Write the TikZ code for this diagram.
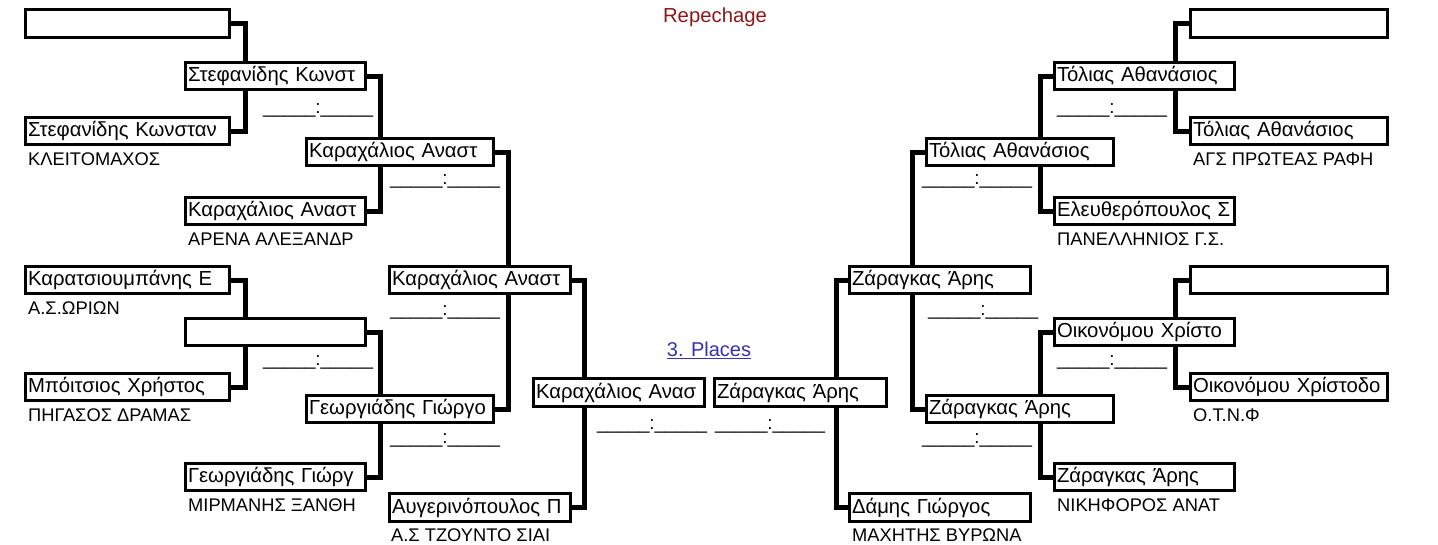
\documentclass[tikz,border=0pt]{standalone}
\usepackage{fontspec}
\setmainfont{Liberation Sans}
\usetikzlibrary{backgrounds,calc}
\newcommand{\boxfont}{\fontsize{20.3}{22}\selectfont}
\newcommand{\clubfont}{\fontsize{18.3}{20}\selectfont}
\newcommand{\scorefont}{\fontsize{18.8}{21}\selectfont}
\definecolor{repred}{RGB}{140,24,24}
\definecolor{placeblue}{RGB}{52,52,170}
\tikzset{%
	entry/.style = {draw, rectangle, line width=3pt, fill=white, anchor=west, minimum height=27.5pt, inner xsep=2.5pt, inner ysep=0pt, align=left, font=\boxfont, text width=#1,
		execute at begin node=\hbox\bgroup, execute at end node=\egroup},
	club/.style  = {anchor=base west, inner sep=0pt, font=\clubfont},
	score/.style = {anchor=base west, inner sep=0pt, font=\scorefont},
	wire/.style  = {line width=5pt, line join=miter},
}
\begin{document}
\begin{tikzpicture}[x=1pt, y=-1pt]
	\useasboundingbox (0,0) rectangle (1438,544);
	\node[text=repred, font=\boxfont] (rep) at (715,17) {Repechage};
	\node[text=placeblue, font=\fontsize{20}{22}\selectfont] (places) at (709,350) {\underline{3. Places}};
	
	% left half
	\node[entry=199pt] (l1a) at (24,23.5) {};
	\node[entry=199pt] (l1b) at (24,131) {Στεφανίδης Κωνσταν};
	\node[entry=199pt] (l1c) at (24,280) {Καρατσιουμπάνης Ε};
	\node[entry=199pt] (l1d) at (24,387) {Μπόιτσιος Χρήστος};
	\node[entry=175pt] (l2a) at (184,76) {Στεφανίδης Κωνστ};
	\node[entry=175pt] (l2b) at (184,211) {Καραχάλιος Αναστ};
	\node[entry=175pt] (l2c) at (184,332) {};
	\node[entry=175pt] (l2d) at (184,477) {Γεωργιάδης Γιώργ};
	\node[entry=182pt] (l3a) at (305,152) {Καραχάλιος Αναστ};
	\node[entry=182pt] (l3b) at (305,409) {Γεωργιάδης Γιώργο};
	\node[entry=176pt] (l4a) at (388,280) {Καραχάλιος Αναστ};
	\node[entry=176pt] (l4b) at (388,507.5) {Αυγερινόπουλος Π};
	\node[entry=166pt] (l5) at (532,392.5) {Καραχάλιος Ανασ};
	
	\node[club] (cl1b) at ($(l1b.west)+(4,34)$) {ΚΛΕΙΤΟΜΑΧΟΣ};
	\node[club] (cl1c) at ($(l1c.west)+(4,34)$) {Α.Σ.ΩΡΙΩΝ};
	\node[club] (cl1d) at ($(l1d.west)+(4,34)$) {ΠΗΓΑΣΟΣ ΔΡΑΜΑΣ};
	\node[club] (cl2b) at ($(l2b.west)+(4,34)$) {ΑΡΕΝΑ ΑΛΕΞΑΝΔΡ};
	\node[club] (cl2d) at ($(l2d.west)+(4,34)$) {ΜΙΡΜΑΝΗΣ ΞΑΝΘΗ};
	\node[club] (cl4b) at ($(l4b.west)+(3,34)$) {Α.Σ ΤΖΟΥΝΤΟ ΣΙΑΙ};
	
	\node[score] (sl2a) at (263,113) {\_\_\_\_\_:\_\_\_\_\_};
	\node[score] (sl2c) at (263,365) {\_\_\_\_\_:\_\_\_\_\_};
	\node[score] (sl3a) at (390,184) {\_\_\_\_\_:\_\_\_\_\_};
	\node[score] (sl4a) at (390,315) {\_\_\_\_\_:\_\_\_\_\_};
	\node[score] (sl3b) at (390,443) {\_\_\_\_\_:\_\_\_\_\_};
	\node[score] (sl5) at (597,429) {\_\_\_\_\_:\_\_\_\_\_};
	
	% right half
	\node[entry=192pt] (r1a) at (1189,23.5) {};
	\node[entry=192pt] (r1b) at (1189,131) {Τόλιας Αθανάσιος};
	\node[entry=192pt] (r1c) at (1189,280) {};
	\node[entry=192pt] (r1d) at (1189,387) {Οικονόμου Χρίστοδο};
	\node[entry=175pt] (r2a) at (1053,76) {Τόλιας Αθανάσιος};
	\node[entry=175pt] (r2b) at (1053,211) {Ελευθερόπουλος Σ};
	\node[entry=175pt] (r2c) at (1053,332) {Οικονόμου Χρίστο};
	\node[entry=175pt] (r2d) at (1053,477) {Ζάραγκας Άρης};
	\node[entry=182pt] (r3a) at (925,152) {Τόλιας Αθανάσιος};
	\node[entry=182pt] (r3b) at (925,409) {Ζάραγκας Άρης};
	\node[entry=176pt] (r4a) at (848,280) {Ζάραγκας Άρης};
	\node[entry=176pt] (r4b) at (848,507.5) {Δάμης Γιώργος};
	\node[entry=167pt] (r5) at (713,392.5) {Ζάραγκας Άρης};
	
	\node[club] (cr1b) at ($(r1b.west)+(4,34)$) {ΑΓΣ ΠΡΩΤΕΑΣ ΡΑΦΗ};
	\node[club] (cr1d) at ($(r1d.west)+(4,34)$) {Ο.Τ.Ν.Φ};
	\node[club] (cr2b) at ($(r2b.west)+(4,34)$) {ΠΑΝΕΛΛΗΝΙΟΣ Γ.Σ.};
	\node[club] (cr2d) at ($(r2d.west)+(4,34)$) {ΝΙΚΗΦΟΡΟΣ ΑΝΑΤ};
	\node[club] (cr4b) at ($(r4b.west)+(4,34)$) {ΜΑΧΗΤΗΣ ΒΥΡΩΝΑ};
	
	\node[score] (sr2a) at (1057,113) {\_\_\_\_\_:\_\_\_\_\_};
	\node[score] (sr2c) at (1057,365) {\_\_\_\_\_:\_\_\_\_\_};
	\node[score] (sr3a) at (922,184) {\_\_\_\_\_:\_\_\_\_\_};
	\node[score] (sr4a) at (928,315) {\_\_\_\_\_:\_\_\_\_\_};
	\node[score] (sr3b) at (922,443) {\_\_\_\_\_:\_\_\_\_\_};
	\node[score] (sr5) at (715,429) {\_\_\_\_\_:\_\_\_\_\_};
	
	% connectors behind the boxes
	\begin{scope}[on background layer]
	\draw[wire] (l1a.east) -- ++(14,0) |- (l1b.east);
	\draw[wire] (l1c.east) -- ++(14,0) |- (l1d.east);
	\draw[wire] (l2a.east) -- ++(13,0) |- (l2b.east);
	\draw[wire] (l2c.east) -- ++(13,0) |- (l2d.east);
	\draw[wire] (l3a.east) -- ++(13,0) |- (l3b.east);
	\draw[wire] (l4a.east) -- ++(12,0) |- (l4b.east);
	\draw[wire] (r1a.west) -- ++(-14,0) |- (r1b.west);
	\draw[wire] (r1c.west) -- ++(-14,0) |- (r1d.west);
	\draw[wire] (r2a.west) -- ++(-13,0) |- (r2b.west);
	\draw[wire] (r2c.west) -- ++(-13,0) |- (r2d.west);
	\draw[wire] (r3a.west) -- ++(-13,0) |- (r3b.west);
	\draw[wire] (r4a.west) -- ++(-12,0) |- (r4b.west);
	\end{scope}
\end{tikzpicture}
\end{document}
